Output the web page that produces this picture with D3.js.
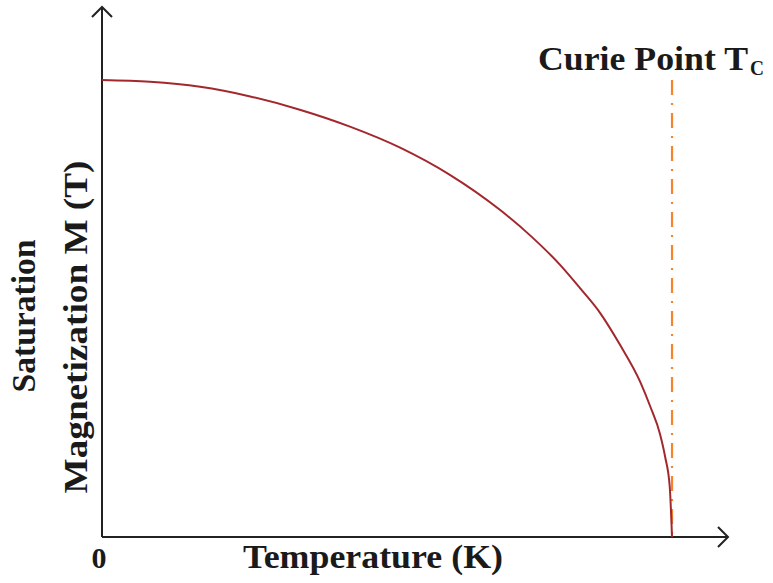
<!DOCTYPE html>
<html>
<head>
<meta charset="utf-8">
<script src="https://cdn.jsdelivr.net/npm/d3@7"></script>
<style>
  html, body { margin: 0; padding: 0; background: #fff; }
  svg { display: block; }
  text { font-family: "Liberation Serif", "Times New Roman", serif; font-weight: bold; fill: #1a1a1a; }
</style>
</head>
<body>
<svg id="chart" width="773" height="583"></svg>
<script>
// Reduced temperature T/Tc
const temperature = [0, 0.084, 0.172, 0.260, 0.347, 0.435, 0.523, 0.611, 0.698, 0.751, 0.804, 0.839, 0.874, 0.909, 0.944, 0.962, 0.979, 0.988, 0.996, 1.0];
// Normalised saturation magnetisation M/M0
const magnetization = [1.0, 0.996, 0.985, 0.964, 0.935, 0.898, 0.852, 0.792, 0.716, 0.660, 0.595, 0.544, 0.490, 0.420, 0.340, 0.285, 0.225, 0.175, 0.110, 0.0];

const curieTemperature = 1.0;
const xLabel = "Temperature (K)";
const yLabelLines = ["Saturation", "Magnetization M (T)"];
const originLabel = "0";
const curieLabel = "Curie Point T";
const curieSub = "C";

const svg = d3.select("#chart");

const x = d3.scaleLinear().domain([0, 1.0982]).range([102, 728]);
const y = d3.scaleLinear().domain([0, 1.1597]).range([537, 7]);

// Axes with open arrow heads
const axisColor = "#222";
const axes = svg.append("g").attr("stroke", axisColor).attr("stroke-width", 2).attr("fill", "none");
axes.append("line").attr("x1", x(0)).attr("y1", y(0)).attr("x2", x.range()[1]).attr("y2", y(0));
axes.append("line").attr("x1", x(0)).attr("y1", y(0)).attr("x2", x(0)).attr("y2", y.range()[1]);
const ah = 10;
axes.append("path").attr("d", `M${x.range()[1] - ah},${y(0) - ah} L${x.range()[1]},${y(0)} L${x.range()[1] - ah},${y(0) + ah}`);
axes.append("path").attr("d", `M${x(0) - ah},${y.range()[1] + ah} L${x(0)},${y.range()[1]} L${x(0) + ah},${y.range()[1] + ah}`);

// Curie temperature marker
svg.append("line")
  .attr("x1", x(curieTemperature)).attr("x2", x(curieTemperature))
  .attr("y1", y(1.0)).attr("y2", y(0))
  .attr("stroke", "#f5842c").attr("stroke-width", 2.2)
  .attr("stroke-dasharray", "15,8,2,8");

// Magnetisation curve
const pts = temperature.map((t, i) => [t, magnetization[i]]);
svg.append("path")
  .datum(pts)
  .attr("fill", "none")
  .attr("stroke", "#a3282d")
  .attr("stroke-width", 2)
  .attr("d", d3.line().x(d => x(d[0])).y(d => y(d[1])).curve(d3.curveMonotoneX));

// Labels
function fit(sel, len) {
  sel.attr("textLength", len).attr("lengthAdjust", "spacingAndGlyphs");
  return sel;
}

svg.append("text").attr("x", 99).attr("y", 568).attr("text-anchor", "middle")
  .attr("font-size", 30).text(originLabel);

fit(svg.append("text").attr("x", 243).attr("y", 568).attr("font-size", 33).text(xLabel), 260);

fit(svg.append("text")
  .attr("transform", "translate(35,316) rotate(-90)")
  .attr("text-anchor", "middle").attr("font-size", 33).text(yLabelLines[0]), 153);
fit(svg.append("text")
  .attr("transform", "translate(87,327) rotate(-90)")
  .attr("text-anchor", "middle").attr("font-size", 34).text(yLabelLines[1]), 333);

fit(svg.append("text").attr("x", 538).attr("y", 70).attr("font-size", 33).text(curieLabel), 210);
fit(svg.append("text").attr("x", 750).attr("y", 75).attr("font-size", 22).text(curieSub), 14);
</script>
</body>
</html>
